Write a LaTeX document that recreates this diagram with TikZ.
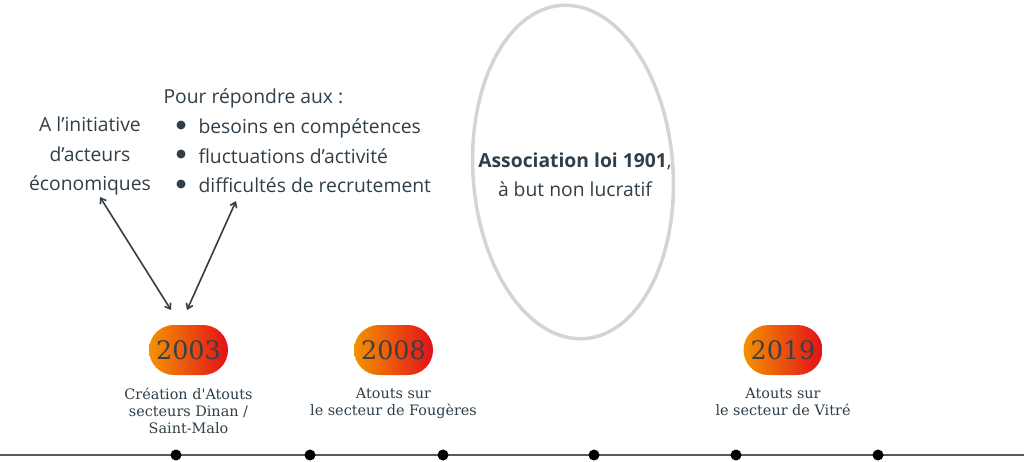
\documentclass[tikz,border=0pt]{standalone}
\usepackage{fontspec}
\setsansfont{Open Sans}
\newfontfamily\yearfont{DejaVu Serif}
\usetikzlibrary{arrows.meta}
\definecolor{ink}{HTML}{2F3E48}
\definecolor{yearc}{HTML}{3A4046}
\definecolor{ring}{HTML}{D3D4DA}
\definecolor{orangeA}{HTML}{F39200}
\definecolor{redA}{HTML}{E3101A}
\tikzset{
  pill/.style={rounded corners=25pt, minimum width=79pt, minimum height=50pt, inner sep=0pt,
    left color=orangeA, right color=redA, text=yearc, font=\yearfont\fontsize{25.5}{25.5}\selectfont},
  caption/.style={align=center, text=ink, font=\yearfont\fontsize{14.4}{17}\selectfont, anchor=north},
  sanstext/.style={text=ink, font=\sffamily\fontsize{19.3}{29.5}\selectfont},
  tdot/.style={circle, fill=black, minimum size=11pt, inner sep=0pt},
  bul/.style={circle, fill=ink, minimum size=9pt, inner sep=0pt},
  link/.style={draw=ink, line width=1.6pt, {Straight Barb[length=5pt,width=7pt]}-{Straight Barb[length=5pt,width=7pt]}}
}
\begin{document}
\begin{tikzpicture}[x=1pt,y=-1pt]
\useasboundingbox (0,0) rectangle (1024,461);
% timeline
\coordinate (L0) at (0,455);
\coordinate (L1) at (1024,455);
\draw[line width=2pt, draw=black!65] (L0) -- (L1);
\foreach \n/\x in {d1/176,d2/310,d3/443,d4/594,d5/736,d6/878}
  \node[tdot] (\n) at (\x,455) {};
% pills
\node[pill] (p1) at (188.5,350) {2003};
\node[pill] (p2) at (393.5,350) {2008};
\node[pill] (p3) at (783,350) {2019};
% captions
\node[caption] (c1) at (188.5,384) {Création d'Atouts\\secteurs Dinan /\\Saint-Malo};
\node[caption] (c2) at (393.5,384) {Atouts sur\\le secteur de Fougères};
\node[caption] (c3) at (783,384) {Atouts sur\\le secteur de Vitré};
% left text
\node[sanstext, align=center] (init) at (90,156) {A l’initiative\\d’acteurs\\économiques};
\node[sanstext, anchor=west] (pour) at (160,98) {Pour répondre aux :};
\node[sanstext, anchor=west, align=left] (items) at (195,156) {besoins en compétences\\fluctuations d’activité\\difficultés de recrutement};
\node[bul] (b1) at (181,125) {};
\node[bul] (b2) at (181,154) {};
\node[bul] (b3) at (181,184) {};
% arrows
\coordinate (a1s) at (100,197);
\coordinate (a1e) at (171,310);
\coordinate (a2s) at (236,201);
\coordinate (a2e) at (187,310);
\draw[link] (a1s) -- (a1e);
\draw[link] (a2s) -- (a2e);
% ellipse
\draw[ring, line width=3.5pt, rotate around={4:(573,172)}] (573,172) ellipse [x radius=100, y radius=167];
\node[sanstext, align=center] (assoc) at (575,175) {\textbf{Association loi 1901},\\à but non lucratif};
\end{tikzpicture}
\end{document}
